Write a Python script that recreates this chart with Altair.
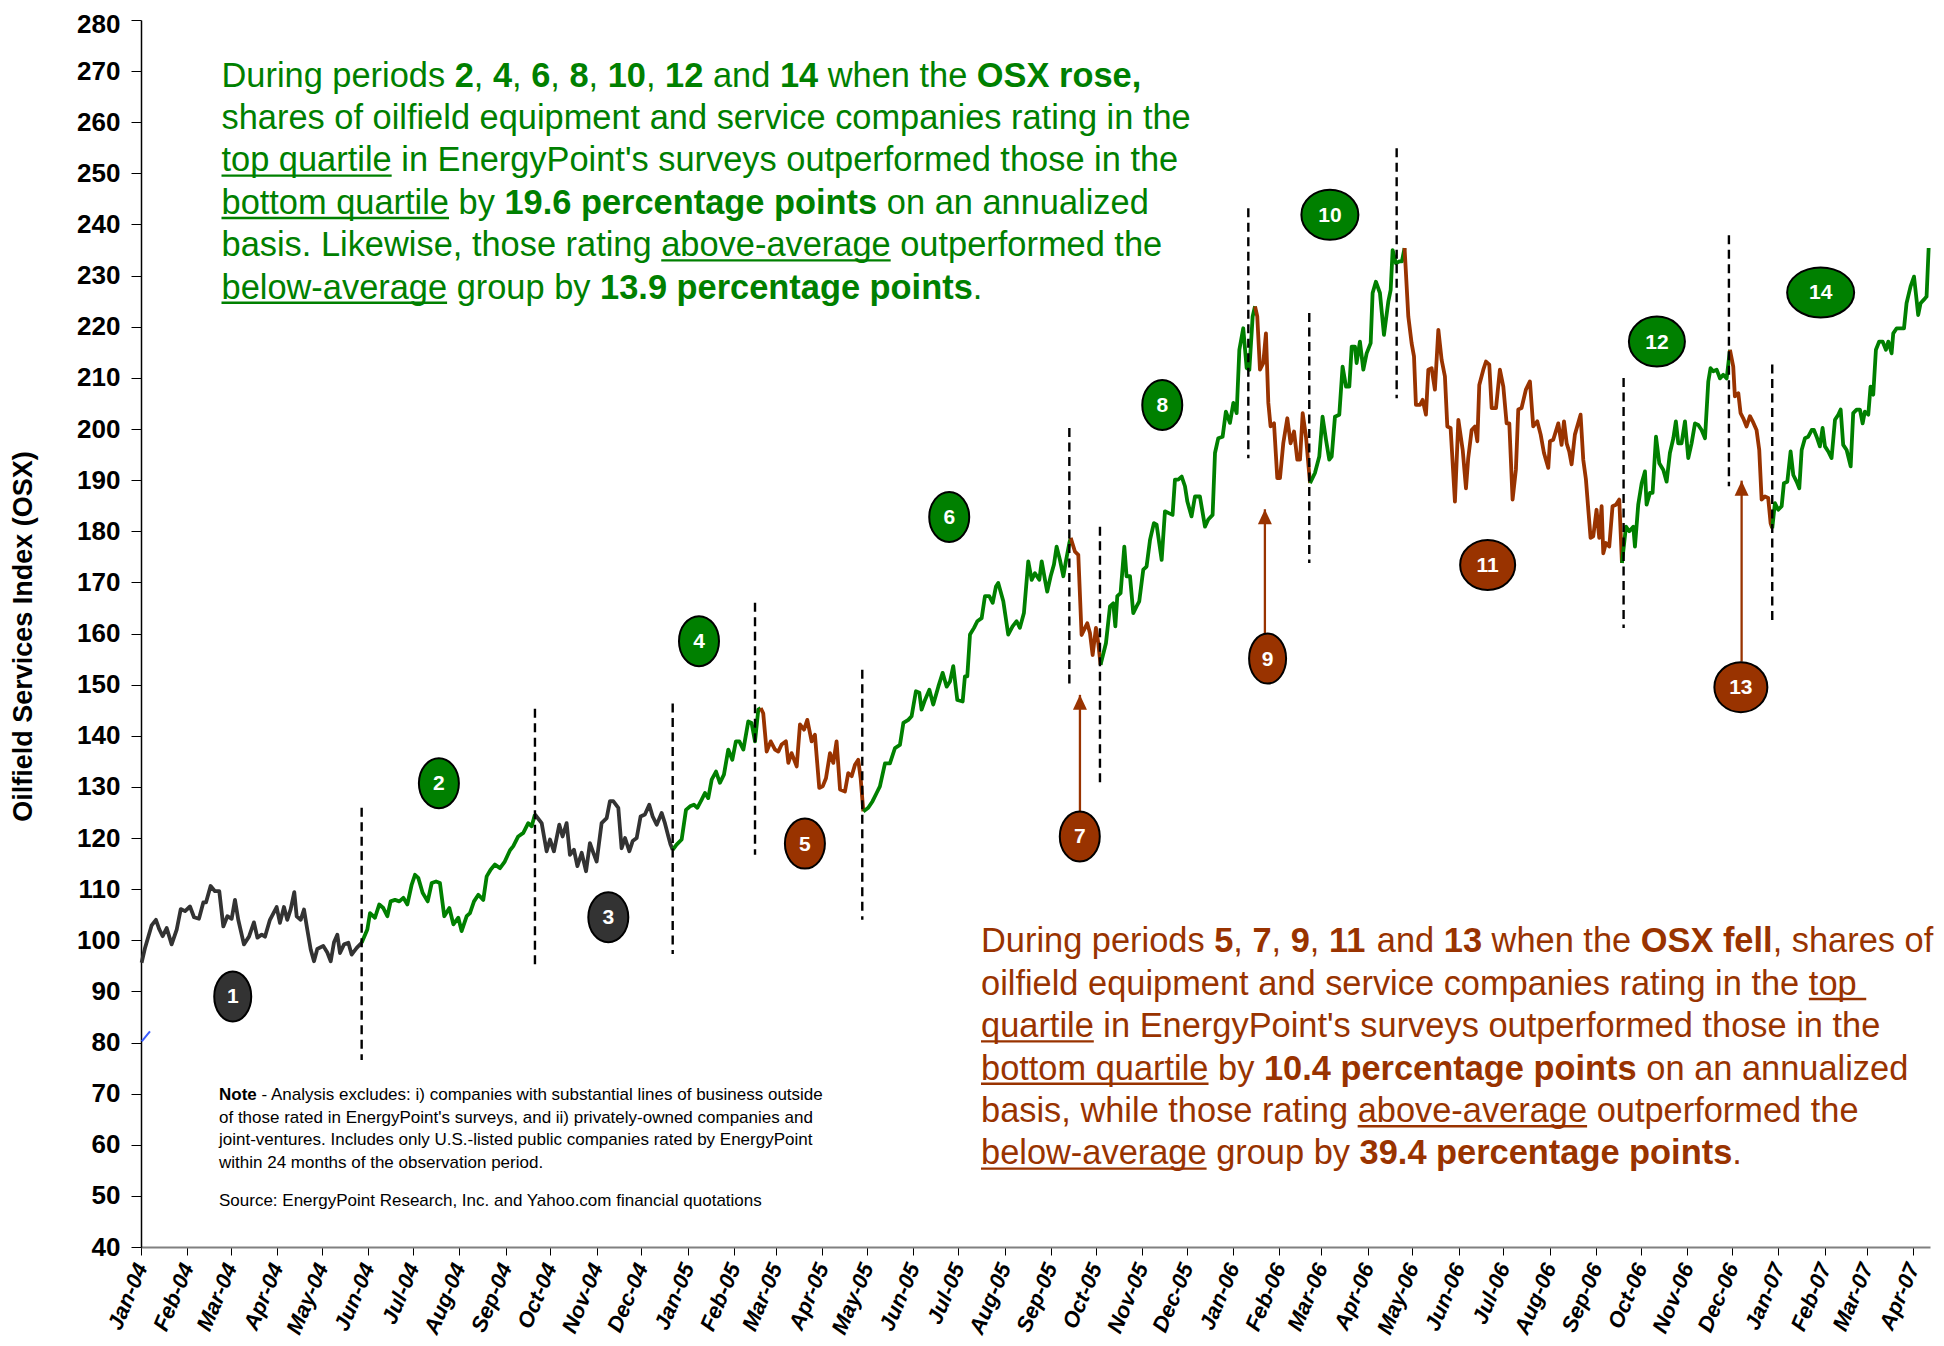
import altair as alt
import pandas as pd

# ---------------- data ----------------
BASE = pd.Timestamp("2004-01-01")

# days since 2004-01-01 and OSX index value
DAYS = [
    0.4, 2.7, 4.9, 7.1, 10.0, 12.3, 14.5, 17.2, 20.5, 23.9, 26.6, 29.5, 32.8, 35.5, 38.8, 41.7, 43.5, 46.6, 49.5, 52.4,
    55.1, 57.8, 60.7, 62.9, 65.1, 68.9, 72.3, 75.6, 77.9, 80.8, 83.0, 86.3, 90.8, 93.0, 95.7, 97.9, 100.2, 102.6, 104.2, 106.9,
    109.1, 111.3, 113.6, 115.8, 118.0, 122.0, 124.7, 127.0, 129.2, 131.4, 133.2, 135.9, 138.8, 141.0, 144.4, 147.7,
    151.5, 153.3, 156.6, 159.5, 162.2, 164.9, 167.1, 170.0, 172.9, 175.6, 178.3, 181.2, 183.4, 185.6, 188.5, 191.9, 194.6, 197.5,
    200.1, 203.0, 206.4, 209.1, 212.4, 214.6, 218.0, 220.2, 222.9, 225.8, 229.1, 231.4, 234.0, 236.9, 240.3, 243.5, 247.0, 249.2,
    252.5, 255.9, 259.2, 261.5, 263.7,
    268.2, 271.5, 273.8, 276.4, 280.0, 282.2, 284.9, 287.1, 289.8, 292.1, 295.0, 297.9, 300.5, 302.8, 305.0, 308.3, 311.7, 313.9,
    316.1, 319.5, 321.7, 324.0, 326.9, 329.1, 331.8, 334.4, 337.3, 340.2, 342.5, 345.2, 348.5, 350.7, 353.0, 354.5, 355.9,
    358.5, 361.9, 364.8, 367.5, 370.1, 372.4, 375.3, 377.5, 379.7, 382.0, 384.9, 387.5, 390.2, 393.1, 395.8, 398.2, 400.5, 403.2,
    406.5, 408.7, 411.0, 413.2, 414.8,
    416.5, 418.8, 421.5, 424.4, 426.6, 428.8, 431.7, 433.3, 435.5, 438.9, 441.1, 443.8, 446.0, 448.9, 451.1, 454.0, 456.3, 458.5,
    461.2, 463.4, 465.6, 467.9, 471.2, 473.4, 475.7, 477.9, 480.1, 481.7, 483.5,
    486.8, 489.7, 492.4, 494.6, 498.0, 501.3, 504.7, 508.0, 510.3, 513.6, 515.8, 518.7, 521.0, 522.5, 524.8, 527.7, 530.3, 533.7,
    536.6, 539.3, 541.5, 543.7, 546.4, 550.0, 551.5, 553.1, 554.9, 557.6, 559.8, 562.7, 564.9, 567.8, 570.1, 572.3, 573.8, 577.2,
    580.5, 583.4, 586.1, 588.3, 591.0, 593.9, 596.2, 598.4, 601.3, 602.9, 605.1, 606.6, 608.9, 611.1, 612.9, 615.1, 617.4, 619.1,
    621.4, 622.3,
    625.2, 627.4, 629.6, 631.9, 633.4, 635.2, 637.0, 639.2, 640.8, 642.3,
    645.9, 648.6, 650.8, 652.2, 653.5, 655.7, 658.2, 659.7, 662.0, 664.2, 666.4, 668.2, 670.9, 673.1, 675.4, 678.0, 679.8, 683.2,
    685.4, 688.3, 690.5, 692.1, 694.3, 696.6, 698.8, 700.4, 703.2, 705.5, 708.8, 712.2, 714.4, 717.3, 718.9, 721.1, 724.0, 726.2,
    728.9, 731.2, 733.4, 735.2, 737.8, 740.1, 741.9, 744.1, 745.7,
    747.2, 749.0, 751.2, 753.0, 754.6, 756.1, 758.4, 760.6, 762.4, 764.6, 767.3, 769.5, 771.8, 774.0, 775.8, 777.6, 779.8, 782.5,
    785.8, 788.7, 790.9, 793.2, 795.4, 797.0, 799.2, 802.1, 804.3, 806.6, 808.8, 810.4, 812.6, 813.7, 815.9, 818.2, 820.4, 823.1,
    824.4, 826.6, 829.3, 832.0, 834.9, 836.5, 837.8, 840.0, 842.3, 844.0, 845.8,
    848.3, 850.5, 852.1, 853.4, 856.1, 857.9, 860.1, 861.7, 863.9, 866.1, 868.4, 870.6, 872.8, 874.4, 876.6, 879.5, 881.8, 884.7,
    886.9, 888.4, 890.7, 892.9, 894.5, 895.8, 898.5, 900.3, 902.5, 904.1, 907.0, 909.6, 911.9, 914.1, 915.9, 918.1, 920.3, 921.9,
    924.1, 927.0, 929.7, 931.9, 934.6, 936.9, 939.1, 942.0, 943.1, 945.3, 948.7, 950.9, 952.5, 954.3, 956.0, 957.6, 959.8, 963.6,
    965.4, 967.2, 968.8, 970.3, 972.1, 974.3, 976.1, 977.7, 978.8, 980.6, 982.8, 985.0, 987.3, 989.5, 991.3,
    994.0, 996.2, 998.9, 1000.0, 1002.2, 1004.5, 1006.7, 1007.8, 1010.0, 1011.8, 1014.1, 1016.3, 1019.0, 1021.2, 1023.4, 1025.7,
    1027.4, 1029.0, 1031.2, 1033.5, 1035.7, 1037.9, 1040.2, 1042.4, 1044.6, 1046.9, 1049.1, 1050.6, 1052.4, 1054.7, 1056.9, 1059.1,
    1061.4, 1063.6,
    1065.8, 1066.9, 1069.2, 1070.7, 1072.5, 1074.7, 1077.0, 1078.8, 1081.4, 1083.2, 1084.8, 1087.0, 1089.2, 1090.8, 1091.9,
    1093.7, 1095.9, 1098.2, 1099.7, 1102.0, 1104.2, 1106.0, 1108.2, 1110.0, 1111.6, 1113.8, 1116.0, 1118.3, 1119.8, 1121.6, 1123.8,
    1125.6, 1127.2, 1129.4, 1131.6, 1133.9, 1136.1, 1137.7, 1139.4, 1141.7, 1144.4, 1146.1, 1148.4, 1150.6, 1152.4, 1153.9, 1156.2,
    1157.7, 1159.5, 1161.3, 1163.5, 1165.8, 1168.0, 1169.6, 1171.8, 1172.9, 1175.2, 1177.8, 1180.1, 1181.8, 1184.5, 1186.8, 1188.5,
    1189.6, 1191.2, 1193.4, 1195.2, 1196.6,
]
OSX = [
    95.6, 98.5, 100.7, 102.9, 104.0, 102.1, 100.8, 102.4, 99.2, 102.1, 106.1, 105.7, 106.6, 104.5, 104.2, 107.4, 107.4, 110.6, 109.6, 109.6,
    102.7, 104.7, 104.2, 107.9, 104.0, 99.2, 100.7, 103.5, 100.5, 101.1, 100.7, 104.0, 106.5, 103.4, 106.5, 104.0, 106.1, 109.4, 104.7, 104.0,
    106.0, 102.1, 98.2, 95.9, 98.3, 98.9, 97.6, 95.9, 99.6, 101.1, 97.5, 99.2, 99.5, 97.2, 98.5, 99.5,
    102.1, 105.3, 104.4, 107.0, 106.3, 104.7, 107.6, 107.9, 107.6, 108.3, 107.0, 110.9, 112.8, 112.2, 109.3, 107.6, 111.2, 111.5,
    111.2, 104.7, 106.3, 103.1, 104.4, 101.8, 104.7, 105.3, 107.6, 108.9, 107.9, 112.5, 113.8, 114.8, 114.1, 115.4, 117.6, 118.4,
    120.3, 121.0, 122.9, 122.3, 124.6,
    122.9, 117.4, 119.7, 117.4, 122.6, 120.3, 122.9, 116.7, 117.7, 114.5, 117.1, 113.5, 119.0, 117.1, 115.4, 122.9, 123.9, 127.2,
    127.2, 125.9, 118.0, 120.0, 117.4, 119.4, 120.0, 124.2, 124.6, 126.5, 124.2, 122.6, 124.9, 122.9, 120.3, 118.7, 117.7,
    118.7, 119.7, 125.5, 126.2, 126.5, 125.9, 127.5, 128.8, 127.8, 131.4, 133.0, 130.8, 132.4, 137.3, 135.3, 138.9, 138.9, 137.3,
    142.8, 142.5, 138.9, 145.1, 145.4,
    144.4, 136.9, 138.9, 137.3, 136.9, 138.3, 138.9, 134.7, 136.6, 134.0, 142.2, 141.2, 143.1, 138.9, 140.2, 129.8, 130.1, 131.7,
    136.6, 134.7, 138.9, 129.5, 129.1, 132.7, 132.1, 134.3, 135.3, 131.7, 125.2,
    125.9, 127.2, 128.8, 130.1, 134.6, 134.6, 137.6, 138.2, 142.5, 143.1, 143.8, 148.7, 148.4, 145.1, 147.0, 149.0, 146.1, 149.6,
    152.3, 149.6, 150.6, 153.6, 147.0, 146.7, 151.6, 151.6, 159.8, 161.1, 162.4, 163.0, 167.3, 167.3, 166.0, 169.2, 169.9, 166.3,
    159.8, 161.4, 162.4, 161.1, 164.0, 174.1, 170.5, 171.8, 170.5, 174.1, 170.5, 168.2, 171.2, 173.5, 177.0, 174.4, 171.2, 174.1,
    177.7, 178.7,
    176.0, 175.4, 159.7, 161.1, 162.0, 160.1, 155.8, 161.1, 158.1, 153.9,
    158.1, 165.3, 165.9, 161.4, 167.3, 167.9, 177.0, 171.2, 171.2, 164.0, 165.3, 166.3, 172.5, 173.1, 178.3, 181.6, 181.3, 174.4,
    183.9, 183.5, 183.2, 190.1, 190.1, 190.7, 188.8, 185.8, 182.9, 186.8, 186.8, 180.9, 182.3, 183.2, 195.3, 198.2, 198.5, 203.4,
    201.2, 205.1, 203.1, 215.5, 219.7, 211.9, 211.6, 222.0, 224.0,
    222.0, 211.6, 212.9, 218.7, 205.1, 200.5, 201.1, 190.4, 190.4, 197.2, 202.1, 197.2, 199.5, 194.0, 194.0, 203.1, 198.5, 189.4,
    191.4, 194.6, 202.4, 197.9, 194.0, 194.6, 202.4, 202.8, 212.2, 208.3, 208.3, 216.1, 216.1, 212.9, 217.1, 211.6, 214.8, 216.8,
    226.6, 228.8, 226.6, 218.4, 224.9, 227.2, 235.0, 232.4, 232.8, 232.8, 235.4,
    222.0, 216.8, 214.2, 204.7, 204.7, 205.7, 202.8, 211.6, 211.9, 207.7, 219.4, 213.5, 210.3, 200.5, 200.2, 185.8, 201.8, 195.9,
    188.4, 194.3, 199.8, 200.5, 197.6, 208.6, 211.6, 213.2, 212.6, 204.1, 204.1, 211.6, 208.3, 201.1, 201.1, 186.2, 192.0, 203.8,
    204.1, 207.7, 209.3, 200.5, 201.5, 198.9, 195.3, 192.4, 197.6, 197.9, 201.1, 196.9, 201.5, 197.2, 195.6, 193.1, 198.9, 202.8,
    194.0, 190.1, 184.2, 178.7, 179.0, 184.2, 178.7, 184.9, 175.7, 177.7, 177.0, 184.9, 185.2, 186.2, 173.8,
    180.9, 180.0, 180.9, 177.0, 185.2, 189.4, 191.7, 185.2, 187.5, 187.5, 198.5, 193.3, 192.0, 189.7, 195.3, 198.2,
    201.5, 197.2, 197.2, 201.5, 194.3, 197.2, 201.1, 200.8, 199.8, 198.2, 209.3, 211.9, 211.3, 211.6, 209.9, 210.6,
    209.9, 215.5,
    212.2, 206.4, 207.0, 203.1, 202.1, 200.5, 202.5, 201.5, 199.8, 195.9, 186.2, 186.8, 186.5, 181.6, 180.6,
    185.5, 184.2, 184.9, 189.4, 189.7, 195.6, 191.0, 189.7, 188.4, 195.9, 198.2, 198.5, 199.8, 199.8, 198.5, 196.6,
    200.2, 196.6, 195.6, 194.3, 201.8, 202.8, 203.8, 196.9, 195.9, 192.7, 203.1, 203.8, 203.8, 201.1, 203.4, 202.8,
    208.3, 206.7, 215.5, 217.1, 217.1, 215.5, 217.1, 214.8, 218.7, 219.7, 219.7, 219.7, 224.6, 227.9, 229.8, 225.3,
    222.3, 224.6, 225.3, 225.9, 235.4,
]

# day on which each period ends (the turning point shared with the next period)
PERIOD_ENDS = [147.7, 263.7, 355.9, 414.8, 483.5, 622.3, 642.3, 745.7, 782.5, 845.8, 991.3, 1063.6, 1091.9]
PERIOD_KIND = ["flat", "up", "flat", "up", "down", "up", "down", "up", "down", "up", "down", "up", "down", "up"]

# dashed period separators
RULE_DAYS = [147.7, 263.7, 355.9, 411.0, 482.8, 621.4, 641.9, 741.2, 782.0, 840.5, 992.4, 1062.9, 1091.9]
RULE_TOP = [125.9, 145.3, 146.3, 166.0, 152.9, 200.2, 180.9, 243.2, 222.7, 254.9, 210.0, 237.9, 212.6]
RULE_BOTTOM = [76.6, 94.8, 97.3, 116.7, 104.0, 149.7, 130.2, 194.3, 173.8, 206.0, 161.1, 188.8, 162.4]

# numbered period badges
CIRCLE_LABELS = [str(i) for i in range(1, 15)]
CIRCLE_DAYS = [61.4, 199.4, 312.8, 373.5, 444.4, 541.0, 628.4, 683.6, 754.1, 795.8, 901.4, 1014.7, 1070.9, 1124.3]
CIRCLE_VALS = [89.0, 130.7, 104.5, 158.5, 118.9, 182.8, 120.3, 204.7, 155.1, 241.9, 173.4, 217.1, 149.5, 226.7]

# arrows from badges 7, 9, 13
ARROW_DAYS = [628.5, 752.3, 1071.4]
ARROW_TIP = [148.0, 184.3, 189.9]
ARROW_TAIL = [125.2, 160.0, 154.5]

# small blue stroke near the origin
BLUE_DAYS = [0.5, 6.0]
BLUE_VALS = [80.2, 82.2]

Y_TICKS = list(range(40, 281, 10))
MONTH_TICKS = [(y, m) for y in (2004, 2005, 2006) for m in range(1, 13)] + [(2007, m) for m in range(1, 5)]

GREEN_TEXT = [
    [("During periods ", "n"), ("2", "b"), (", ", "n"), ("4", "b"), (", ", "n"), ("6", "b"), (", ", "n"), ("8", "b"),
     (", ", "n"), ("10", "b"), (", ", "n"), ("12", "b"), (" and ", "n"), ("14", "b"), (" when the ", "n"), ("OSX rose,", "b")],
    [("shares of oilfield equipment and service companies rating in the", "n")],
    [("top quartile", "u"), (" in EnergyPoint's surveys outperformed those in the", "n")],
    [("bottom quartile", "u"), (" by ", "n"), ("19.6 percentage points", "b"), (" on an annualized", "n")],
    [("basis. Likewise, those rating ", "n"), ("above-average", "u"), (" outperformed the", "n")],
    [("below-average", "u"), (" group by ", "n"), ("13.9 percentage points", "b"), (".", "n")],
]
BROWN_TEXT = [
    [("During periods ", "n"), ("5", "b"), (", ", "n"), ("7", "b"), (", ", "n"), ("9", "b"), (", ", "n"), ("11", "b"),
     (" and ", "n"), ("13", "b"), (" when the ", "n"), ("OSX fell", "b"), (", shares of", "n")],
    [("oilfield equipment and service companies rating in the ", "n"), ("top ", "u")],
    [("quartile", "u"), (" in EnergyPoint's surveys outperformed those in the", "n")],
    [("bottom quartile", "u"), (" by ", "n"), ("10.4 percentage points", "b"), (" on an annualized", "n")],
    [("basis, while those rating ", "n"), ("above-average", "u"), (" outperformed the", "n")],
    [("below-average", "u"), (" group by ", "n"), ("39.4 percentage points", "b"), (".", "n")],
]
NOTE_TEXT = [
    [("Note", "b"), (" - Analysis excludes: i) companies with substantial lines of business outside", "n")],
    [("of those rated in EnergyPoint's surveys, and ii) privately-owned companies and", "n")],
    [("joint-ventures. Includes only U.S.-listed public companies rated by EnergyPoint", "n")],
    [("within 24 months of the observation period.", "n")],
]
SOURCE_TEXT = [[("Source: EnergyPoint Research, Inc. and Yahoo.com financial quotations", "n")]]

# ---------------- styling ----------------
FONT = "Liberation Sans"
KIND_COLOR = {"flat": "#333333", "up": "#008000", "down": "#993300"}
CIRCLE_W = [37, 40, 40, 40, 40, 40, 40, 40, 37, 57, 55, 56, 53, 67]
CIRCLE_H = 50
W, H = 1789, 1227
PX0, PY0 = 141, 20  # page position of the plot origin

UP = "ABCDEFGHIJKLMNOPQRSTUVWXYZ"
LO = "abcdefghijklmnopqrstuvwxyz"
REG = dict(zip(UP, [667, 667, 722, 722, 667, 611, 778, 722, 278, 500, 667, 556, 833, 722, 778, 667, 778, 722, 667, 611, 722, 667, 944, 667, 667, 611]))
REG.update(zip(LO, [556, 556, 500, 556, 556, 278, 556, 556, 222, 222, 500, 222, 833, 556, 556, 556, 556, 333, 500, 278, 556, 500, 722, 500, 500, 500]))
REG.update({" ": 278, ",": 278, ".": 278, "-": 333, "'": 191, ":": 278, "(": 333, ")": 333})
BOLD = dict(zip(UP, [722, 722, 722, 722, 667, 611, 778, 722, 278, 556, 722, 611, 833, 722, 778, 667, 778, 722, 667, 611, 722, 667, 944, 667, 667, 611]))
BOLD.update(zip(LO, [556, 611, 556, 611, 556, 333, 611, 611, 278, 278, 556, 278, 889, 611, 611, 611, 611, 389, 556, 333, 611, 556, 778, 556, 556, 500]))
BOLD.update({" ": 278, ",": 278, ".": 278, "-": 333, "'": 238, ":": 333, "(": 333, ")": 333})
for ch in "0123456789":
    REG[ch] = 556
    BOLD[ch] = 556


def tw(s, bold, fs):
    t = BOLD if bold else REG
    return sum(t.get(c, 556) for c in s) * fs / 1000.0


def to_date(d):
    return BASE + pd.to_timedelta(d, unit="D")


# ---------------- frames ----------------
bounds = [DAYS[0]] + PERIOD_ENDS + [DAYS[-1]]
rows = []
for k in range(14):
    lo, hi = bounds[k], bounds[k + 1]
    for d, v in zip(DAYS, OSX):
        if lo <= d <= hi:
            rows.append({"date": to_date(d), "value": v, "period": f"P{k + 1:02d}"})
line_df = pd.DataFrame(rows)
period_domain = [f"P{k + 1:02d}" for k in range(14)]
period_range = [KIND_COLOR[k] for k in PERIOD_KIND]

rule_df = pd.DataFrame({"date": [to_date(d) for d in RULE_DAYS], "value": RULE_TOP, "value2": RULE_BOTTOM})

circle_df = pd.DataFrame({
    "date": [to_date(d) for d in CIRCLE_DAYS],
    "value": CIRCLE_VALS,
    "label": CIRCLE_LABELS,
    "fill": [KIND_COLOR[k] for k in PERIOD_KIND],
    "shape": [
        f"M{-w / 2},0 A{w / 2},{CIRCLE_H / 2} 0 1,0 {w / 2},0 A{w / 2},{CIRCLE_H / 2} 0 1,0 {-w / 2},0 Z"
        for w in CIRCLE_W
    ],
})
arrow_df = pd.DataFrame({"date": [to_date(d) for d in ARROW_DAYS], "value": ARROW_TIP, "value2": ARROW_TAIL})
blue_df = pd.DataFrame({"date": [to_date(d) for d in BLUE_DAYS], "value": BLUE_VALS})

x_axis = alt.Axis(
    values=[alt.DateTime(year=y, month=m, date=1) for y, m in MONTH_TICKS],
    format="%b-%y", title=None, grid=False, labelAngle=-67, labelAlign="right", labelBaseline="middle",
    labelFont=FONT, labelFontSize=22, labelFontWeight="bold", labelFontStyle="italic", labelColor="black",
    labelPadding=9, labelOverlap=False, labelFlush=False, tickSize=8, tickColor="black", tickWidth=1,
    domainColor="#808080", domainWidth=2,
)
y_axis = alt.Axis(
    values=Y_TICKS, title="Oilfield Services Index (OSX)", grid=False,
    labelFont=FONT, labelFontSize=26, labelFontWeight="bold", labelColor="black", labelPadding=11,
    labelOffset={"condition": {"test": "datum.value == 280", "value": 4}, "value": 0},
    tickSize=10, tickColor="black", tickWidth=1, domainColor="black", domainWidth=1.5,
    titleFont=FONT, titleFontSize=27, titleFontWeight="bold", titleColor="black",
    titleAngle=-90, titleAlign="center", titleBaseline="middle", titleX=-117.5, titleY=616,
)
x_scale = alt.Scale(domain=[alt.DateTime(year=2004, month=1, date=1),
                            alt.DateTime(year=2007, month=4, date=12, hours=12)], nice=False)
y_scale = alt.Scale(domain=[40, 280], nice=False, zero=False)
X = alt.X("date:T", scale=x_scale, axis=x_axis)
Y = alt.Y("value:Q", scale=y_scale, axis=y_axis)

layers = []
layers.append(alt.Chart(line_df).mark_line(strokeWidth=3.8, strokeJoin="round").encode(
    x=X, y=Y,
    color=alt.Color("period:N", scale=alt.Scale(domain=period_domain, range=period_range), legend=None),
    detail="period:N",
))
layers.append(alt.Chart(blue_df).mark_line(strokeWidth=2, color="#3a5cff").encode(x=X, y=Y))
layers.append(alt.Chart(rule_df).mark_rule(color="black", strokeWidth=2.4, strokeDash=[9, 5.5]).encode(
    x=X, y=Y, y2="value2:Q"))
layers.append(alt.Chart(arrow_df).mark_rule(color="#993300", strokeWidth=2.3).encode(
    x=X, y=alt.Y("value2:Q", scale=y_scale, axis=y_axis), y2="value:Q"))
layers.append(alt.Chart(arrow_df).mark_point(shape="M0,0 L7,15 L-7,15 Z", size=4, filled=True,
                                             color="#993300", opacity=1).encode(x=X, y=Y))
layers.append(alt.Chart(circle_df).mark_point(size=4, filled=True, stroke="black", strokeWidth=2,
                                              opacity=1, fillOpacity=1, strokeOpacity=1).encode(
    x=X, y=Y, shape=alt.Shape("shape:N", scale=None), fill=alt.Fill("fill:N", scale=None)))
layers.append(alt.Chart(circle_df).mark_text(font=FONT, fontSize=21, fontWeight="bold", color="white",
                                             align="center", baseline="middle", dy=1).encode(
    x=X, y=Y, text="label:N"))

one = pd.DataFrame({"k": [0]})


def text_block(lines, x0, y0, dy, fs, color):
    out = []
    for i, runs in enumerate(lines):
        x = x0
        y = y0 + i * dy
        for text, style in runs:
            bold = style == "b"
            w = tw(text, bold, fs)
            core = text.lstrip(" ")
            lead = tw(text[: len(text) - len(core)], bold, fs)
            core = core.rstrip(" ")
            if core:
                out.append(alt.Chart(one).mark_text(
                    font=FONT, fontSize=fs, fontWeight="bold" if bold else "normal", color=color,
                    align="left", baseline="alphabetic").encode(
                    x=alt.value(x + lead - PX0), y=alt.value(y - PY0), text=alt.value(core)))
            if style == "u":
                out.append(alt.Chart(one).mark_rule(color=color, strokeWidth=2.4).encode(
                    x=alt.value(x - PX0), x2=alt.value(x + w - PX0), y=alt.value(y + 4.3 - PY0)))
            x += w
    return out


layers += text_block(GREEN_TEXT, 221.5, 86.5, 42.4, 34.4, "#008000")
layers += text_block(BROWN_TEXT, 981.0, 952.3, 42.4, 34.4, "#993300")
layers += text_block(NOTE_TEXT, 219.0, 1100.0, 22.5, 17, "black")
layers += text_block(SOURCE_TEXT, 219.0, 1206.0, 22.5, 17, "black")

chart = alt.layer(*layers).properties(
    width=W, height=H,
    autosize=alt.AutoSizeParams(type="none"),
    padding={"left": PX0 - 8, "top": PY0 - 8, "right": 4, "bottom": 91},
    background="white",
).configure_view(stroke=None)

chart.save("out.html", embed_options={"renderer": "svg", "actions": False})
